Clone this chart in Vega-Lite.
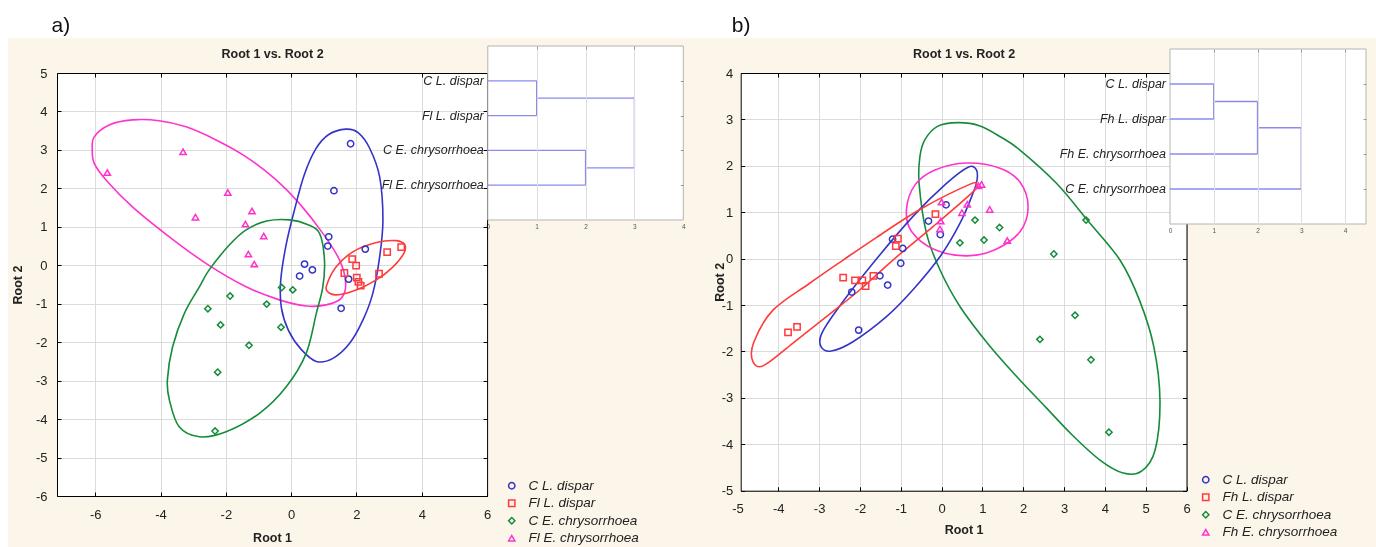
{
"$schema": "https://vega.github.io/schema/vega-lite/v6.json",
"width": 1368, "height": 509,
"autosize": {"type": "none"},
"padding": {"left": 8, "top": 38, "right": 0, "bottom": 0},
"background": "#ffffff",
"config": {
  "view": {"fill": "#fcf6ea", "stroke": null},
  "font": "Liberation Sans",
  "axis": {"labelFont": "Liberation Sans", "labelFontSize": 13, "labelColor": "#222222", "titleFont": "Liberation Sans", "titleFontSize": 12.5, "titleFontWeight": "bold", "titleColor": "#222222", "domainColor": "#000000", "tickColor": "#000000", "domainWidth": 1, "tickWidth": 1, "gridWidth": 1, "labelOverlap": false, "labelBound": false, "labelFlush": false, "labelExpr": "'' + datum.value"},
  "legend": {"labelFont": "Liberation Sans", "labelFontSize": 13.5, "labelFontStyle": "italic", "labelColor": "#222222", "symbolStrokeWidth": 1.5, "symbolSize": 40, "rowPadding": 2.5, "labelOffset": 10, "padding": 0, "title": null}
},
"resolve": {"scale": {"x": "independent", "y": "independent", "color": "independent", "shape": "independent", "stroke": "independent"}},
"datasets": {
  "ptsA": [
    {"g":"C L. dispar","x":1.82,"y":3.16},{"g":"C L. dispar","x":1.31,"y":1.94},{"g":"C L. dispar","x":1.15,"y":0.74},{"g":"C L. dispar","x":1.12,"y":0.5},{"g":"C L. dispar","x":0.41,"y":0.03},{"g":"C L. dispar","x":0.65,"y":-0.12},{"g":"C L. dispar","x":0.26,"y":-0.28},{"g":"C L. dispar","x":2.27,"y":0.42},{"g":"C L. dispar","x":1.76,"y":-0.36},{"g":"C L. dispar","x":1.53,"y":-1.12},
    {"g":"Fl L. dispar","x":1.87,"y":0.16},{"g":"Fl L. dispar","x":1.99,"y":-0.01},{"g":"Fl L. dispar","x":1.63,"y":-0.2},{"g":"Fl L. dispar","x":2.01,"y":-0.32},{"g":"Fl L. dispar","x":2.06,"y":-0.43},{"g":"Fl L. dispar","x":2.13,"y":-0.53},{"g":"Fl L. dispar","x":2.69,"y":-0.22},{"g":"Fl L. dispar","x":2.94,"y":0.34},{"g":"Fl L. dispar","x":3.37,"y":0.47},
    {"g":"C E. chrysorrhoea","x":-0.29,"y":-0.58},{"g":"C E. chrysorrhoea","x":0.05,"y":-0.64},{"g":"C E. chrysorrhoea","x":-1.87,"y":-0.8},{"g":"C E. chrysorrhoea","x":-2.55,"y":-1.13},{"g":"C E. chrysorrhoea","x":-0.75,"y":-1.01},{"g":"C E. chrysorrhoea","x":-2.16,"y":-1.55},{"g":"C E. chrysorrhoea","x":-0.31,"y":-1.61},{"g":"C E. chrysorrhoea","x":-1.29,"y":-2.08},{"g":"C E. chrysorrhoea","x":-2.25,"y":-2.78},{"g":"C E. chrysorrhoea","x":-2.33,"y":-4.31},
    {"g":"Fl E. chrysorrhoea","x":-5.63,"y":2.41},{"g":"Fl E. chrysorrhoea","x":-3.31,"y":2.95},{"g":"Fl E. chrysorrhoea","x":-1.94,"y":1.89},{"g":"Fl E. chrysorrhoea","x":-2.93,"y":1.25},{"g":"Fl E. chrysorrhoea","x":-1.2,"y":1.41},{"g":"Fl E. chrysorrhoea","x":-1.4,"y":1.07},{"g":"Fl E. chrysorrhoea","x":-0.84,"y":0.76},{"g":"Fl E. chrysorrhoea","x":-1.31,"y":0.29},{"g":"Fl E. chrysorrhoea","x":-1.13,"y":0.03}
  ],
  "ellA": [
    {"g":"Fl E. chrysorrhoea","i":1,"x":-6.09,"y":3.0},{"g":"Fl E. chrysorrhoea","i":2,"x":-6.03,"y":3.34},{"g":"Fl E. chrysorrhoea","i":3,"x":-5.57,"y":3.65},{"g":"Fl E. chrysorrhoea","i":4,"x":-4.86,"y":3.78},{"g":"Fl E. chrysorrhoea","i":5,"x":-4.04,"y":3.76},{"g":"Fl E. chrysorrhoea","i":6,"x":-3.22,"y":3.6},{"g":"Fl E. chrysorrhoea","i":7,"x":-2.3,"y":3.26},{"g":"Fl E. chrysorrhoea","i":8,"x":-1.38,"y":2.82},{"g":"Fl E. chrysorrhoea","i":9,"x":-0.46,"y":2.22},{"g":"Fl E. chrysorrhoea","i":10,"x":0.25,"y":1.61},{"g":"Fl E. chrysorrhoea","i":11,"x":0.97,"y":0.83},{"g":"Fl E. chrysorrhoea","i":12,"x":1.48,"y":0.14},{"g":"Fl E. chrysorrhoea","i":13,"x":1.67,"y":-0.47},{"g":"Fl E. chrysorrhoea","i":14,"x":1.53,"y":-0.86},{"g":"Fl E. chrysorrhoea","i":15,"x":1.07,"y":-1.03},{"g":"Fl E. chrysorrhoea","i":16,"x":0.46,"y":-1.06},{"g":"Fl E. chrysorrhoea","i":17,"x":-0.36,"y":-0.9},{"g":"Fl E. chrysorrhoea","i":18,"x":-1.38,"y":-0.56},{"g":"Fl E. chrysorrhoea","i":19,"x":-2.61,"y":0.05},{"g":"Fl E. chrysorrhoea","i":20,"x":-3.73,"y":0.74},{"g":"Fl E. chrysorrhoea","i":21,"x":-4.86,"y":1.52},{"g":"Fl E. chrysorrhoea","i":22,"x":-5.67,"y":2.22},{"g":"Fl E. chrysorrhoea","i":23,"x":-6.03,"y":2.65},
    {"g":"C L. dispar","i":1,"x":1.68,"y":3.54},{"g":"C L. dispar","i":2,"x":1.15,"y":3.4},{"g":"C L. dispar","i":3,"x":0.75,"y":3.02},{"g":"C L. dispar","i":4,"x":0.4,"y":2.35},{"g":"C L. dispar","i":5,"x":0.12,"y":1.5},{"g":"C L. dispar","i":6,"x":-0.15,"y":0.55},{"g":"C L. dispar","i":7,"x":-0.32,"y":-0.4},{"g":"C L. dispar","i":8,"x":-0.3,"y":-1.1},{"g":"C L. dispar","i":9,"x":-0.08,"y":-1.7},{"g":"C L. dispar","i":10,"x":0.3,"y":-2.18},{"g":"C L. dispar","i":11,"x":0.77,"y":-2.5},{"g":"C L. dispar","i":12,"x":1.28,"y":-2.42},{"g":"C L. dispar","i":13,"x":1.79,"y":-2.03},{"g":"C L. dispar","i":14,"x":2.2,"y":-1.42},{"g":"C L. dispar","i":15,"x":2.5,"y":-0.73},{"g":"C L. dispar","i":16,"x":2.71,"y":0.22},{"g":"C L. dispar","i":17,"x":2.81,"y":1.18},{"g":"C L. dispar","i":18,"x":2.71,"y":2.3},{"g":"C L. dispar","i":19,"x":2.4,"y":3.05},{"g":"C L. dispar","i":20,"x":2.05,"y":3.45},
    {"g":"C E. chrysorrhoea","i":1,"x":-0.05,"y":1.18},{"g":"C E. chrysorrhoea","i":2,"x":0.5,"y":1.06},{"g":"C E. chrysorrhoea","i":3,"x":0.87,"y":0.83},{"g":"C E. chrysorrhoea","i":4,"x":1.02,"y":0.14},{"g":"C E. chrysorrhoea","i":5,"x":0.97,"y":-0.56},{"g":"C E. chrysorrhoea","i":6,"x":0.77,"y":-1.25},{"g":"C E. chrysorrhoea","i":7,"x":0.46,"y":-2.29},{"g":"C E. chrysorrhoea","i":8,"x":-0.15,"y":-3.16},{"g":"C E. chrysorrhoea","i":9,"x":-0.97,"y":-3.85},{"g":"C E. chrysorrhoea","i":10,"x":-1.99,"y":-4.33},{"g":"C E. chrysorrhoea","i":11,"x":-2.81,"y":-4.46},{"g":"C E. chrysorrhoea","i":12,"x":-3.43,"y":-4.2},{"g":"C E. chrysorrhoea","i":13,"x":-3.73,"y":-3.5},{"g":"C E. chrysorrhoea","i":14,"x":-3.79,"y":-2.98},{"g":"C E. chrysorrhoea","i":15,"x":-3.63,"y":-2.12},{"g":"C E. chrysorrhoea","i":16,"x":-3.27,"y":-1.25},{"g":"C E. chrysorrhoea","i":17,"x":-2.81,"y":-0.56},{"g":"C E. chrysorrhoea","i":18,"x":-2.51,"y":-0.12},{"g":"C E. chrysorrhoea","i":19,"x":-1.9,"y":0.52},{"g":"C E. chrysorrhoea","i":20,"x":-1.38,"y":0.92},{"g":"C E. chrysorrhoea","i":21,"x":-0.75,"y":1.15},
    {"g":"Fl L. dispar","i":1,"x":1.09,"y":-0.51},{"g":"Fl L. dispar","i":2,"x":1.38,"y":-0.04},{"g":"Fl L. dispar","i":3,"x":1.89,"y":0.35},{"g":"Fl L. dispar","i":4,"x":2.61,"y":0.59},{"g":"Fl L. dispar","i":5,"x":3.22,"y":0.64},{"g":"Fl L. dispar","i":6,"x":3.48,"y":0.53},{"g":"Fl L. dispar","i":7,"x":3.45,"y":0.31},{"g":"Fl L. dispar","i":8,"x":3.12,"y":-0.04},{"g":"Fl L. dispar","i":9,"x":2.61,"y":-0.38},{"g":"Fl L. dispar","i":10,"x":1.99,"y":-0.64},{"g":"Fl L. dispar","i":11,"x":1.38,"y":-0.77},{"g":"Fl L. dispar","i":12,"x":1.12,"y":-0.69}
  ],
  "ptsB": [
    {"g":"C L. dispar","x":0.11,"y":1.16},{"g":"C L. dispar","x":-0.32,"y":0.81},{"g":"C L. dispar","x":-0.03,"y":0.52},{"g":"C L. dispar","x":-1.2,"y":0.42},{"g":"C L. dispar","x":-0.95,"y":0.22},{"g":"C L. dispar","x":-1.0,"y":-0.1},{"g":"C L. dispar","x":-1.51,"y":-0.37},{"g":"C L. dispar","x":-1.32,"y":-0.57},{"g":"C L. dispar","x":-2.2,"y":-0.72},{"g":"C L. dispar","x":-2.03,"y":-1.54},
    {"g":"Fh L. dispar","x":-3.76,"y":-1.59},{"g":"Fh L. dispar","x":-3.54,"y":-1.47},{"g":"Fh L. dispar","x":-2.41,"y":-0.41},{"g":"Fh L. dispar","x":-2.12,"y":-0.47},{"g":"Fh L. dispar","x":-1.94,"y":-0.47},{"g":"Fh L. dispar","x":-1.86,"y":-0.59},{"g":"Fh L. dispar","x":-1.67,"y":-0.37},{"g":"Fh L. dispar","x":-1.07,"y":0.43},{"g":"Fh L. dispar","x":-1.12,"y":0.27},{"g":"Fh L. dispar","x":-0.15,"y":0.96},
    {"g":"C E. chrysorrhoea","x":0.82,"y":0.83},{"g":"C E. chrysorrhoea","x":1.42,"y":0.67},{"g":"C E. chrysorrhoea","x":0.45,"y":0.34},{"g":"C E. chrysorrhoea","x":1.04,"y":0.4},{"g":"C E. chrysorrhoea","x":2.75,"y":0.1},{"g":"C E. chrysorrhoea","x":2.41,"y":-1.74},{"g":"C E. chrysorrhoea","x":3.54,"y":0.83},{"g":"C E. chrysorrhoea","x":3.27,"y":-1.22},{"g":"C E. chrysorrhoea","x":3.66,"y":-2.18},{"g":"C E. chrysorrhoea","x":4.1,"y":-3.74},
    {"g":"Fh E. chrysorrhoea","x":0.9,"y":1.57},{"g":"Fh E. chrysorrhoea","x":0.98,"y":1.6},{"g":"Fh E. chrysorrhoea","x":0.0,"y":1.22},{"g":"Fh E. chrysorrhoea","x":0.63,"y":1.17},{"g":"Fh E. chrysorrhoea","x":0.5,"y":0.99},{"g":"Fh E. chrysorrhoea","x":1.18,"y":1.06},{"g":"Fh E. chrysorrhoea","x":-0.02,"y":0.81},{"g":"Fh E. chrysorrhoea","x":-0.04,"y":0.64},{"g":"Fh E. chrysorrhoea","x":1.61,"y":0.39}
  ],
  "ellB": [
    {"g":"C E. chrysorrhoea","i":1,"x":-0.41,"y":2.56},{"g":"C E. chrysorrhoea","i":2,"x":-0.1,"y":2.85},{"g":"C E. chrysorrhoea","i":3,"x":0.4,"y":2.93},{"g":"C E. chrysorrhoea","i":4,"x":0.94,"y":2.86},{"g":"C E. chrysorrhoea","i":5,"x":1.45,"y":2.62},{"g":"C E. chrysorrhoea","i":6,"x":1.92,"y":2.34},{"g":"C E. chrysorrhoea","i":7,"x":2.82,"y":1.62},{"g":"C E. chrysorrhoea","i":8,"x":3.6,"y":0.8},{"g":"C E. chrysorrhoea","i":9,"x":4.37,"y":-0.03},{"g":"C E. chrysorrhoea","i":10,"x":4.85,"y":-0.9},{"g":"C E. chrysorrhoea","i":11,"x":5.2,"y":-1.9},{"g":"C E. chrysorrhoea","i":12,"x":5.35,"y":-3.05},{"g":"C E. chrysorrhoea","i":13,"x":5.23,"y":-4.13},{"g":"C E. chrysorrhoea","i":14,"x":4.9,"y":-4.58},{"g":"C E. chrysorrhoea","i":15,"x":4.45,"y":-4.62},{"g":"C E. chrysorrhoea","i":16,"x":3.88,"y":-4.34},{"g":"C E. chrysorrhoea","i":17,"x":3.2,"y":-3.8},{"g":"C E. chrysorrhoea","i":18,"x":2.55,"y":-3.2},{"g":"C E. chrysorrhoea","i":19,"x":1.85,"y":-2.55},{"g":"C E. chrysorrhoea","i":20,"x":1.15,"y":-1.85},{"g":"C E. chrysorrhoea","i":21,"x":0.45,"y":-1.03},{"g":"C E. chrysorrhoea","i":22,"x":-0.04,"y":-0.24},{"g":"C E. chrysorrhoea","i":23,"x":-0.37,"y":0.55},{"g":"C E. chrysorrhoea","i":24,"x":-0.55,"y":1.62},{"g":"C E. chrysorrhoea","i":25,"x":-0.53,"y":2.2},
    {"g":"Fh E. chrysorrhoea","i":1,"x":0.61,"y":2.06},{"g":"Fh E. chrysorrhoea","i":2,"x":1.43,"y":1.95},{"g":"Fh E. chrysorrhoea","i":3,"x":1.92,"y":1.65},{"g":"Fh E. chrysorrhoea","i":4,"x":2.12,"y":1.12},{"g":"Fh E. chrysorrhoea","i":5,"x":1.92,"y":0.58},{"g":"Fh E. chrysorrhoea","i":6,"x":1.31,"y":0.19},{"g":"Fh E. chrysorrhoea","i":7,"x":0.61,"y":0.06},{"g":"Fh E. chrysorrhoea","i":8,"x":-0.16,"y":0.19},{"g":"Fh E. chrysorrhoea","i":9,"x":-0.73,"y":0.58},{"g":"Fh E. chrysorrhoea","i":10,"x":-0.86,"y":1.05},{"g":"Fh E. chrysorrhoea","i":11,"x":-0.65,"y":1.59},{"g":"Fh E. chrysorrhoea","i":12,"x":-0.16,"y":1.91},
    {"g":"C L. dispar","i":1,"x":0.65,"y":1.97},{"g":"C L. dispar","i":2,"x":0.85,"y":1.92},{"g":"C L. dispar","i":3,"x":0.87,"y":1.7},{"g":"C L. dispar","i":4,"x":0.77,"y":1.41},{"g":"C L. dispar","i":5,"x":0.45,"y":0.76},{"g":"C L. dispar","i":6,"x":-0.04,"y":0.04},{"g":"C L. dispar","i":7,"x":-0.7,"y":-0.67},{"g":"C L. dispar","i":8,"x":-1.35,"y":-1.25},{"g":"C L. dispar","i":9,"x":-2.17,"y":-1.79},{"g":"C L. dispar","i":10,"x":-2.7,"y":-1.99},{"g":"C L. dispar","i":11,"x":-2.95,"y":-1.9},{"g":"C L. dispar","i":12,"x":-2.94,"y":-1.62},{"g":"C L. dispar","i":13,"x":-2.57,"y":-1.11},{"g":"C L. dispar","i":14,"x":-1.68,"y":-0.1},{"g":"C L. dispar","i":15,"x":-0.7,"y":0.91},{"g":"C L. dispar","i":16,"x":0.12,"y":1.62},
    {"g":"Fh L. dispar","i":1,"x":0.85,"y":1.58},{"g":"Fh L. dispar","i":2,"x":0.69,"y":1.6},{"g":"Fh L. dispar","i":3,"x":-0.53,"y":1.06},{"g":"Fh L. dispar","i":4,"x":-1.59,"y":0.46},{"g":"Fh L. dispar","i":5,"x":-2.41,"y":-0.03},{"g":"Fh L. dispar","i":6,"x":-3.23,"y":-0.53},{"g":"Fh L. dispar","i":7,"x":-4.13,"y":-1.11},{"g":"Fh L. dispar","i":8,"x":-4.6,"y":-1.8},{"g":"Fh L. dispar","i":9,"x":-4.62,"y":-2.22},{"g":"Fh L. dispar","i":10,"x":-4.35,"y":-2.3},{"g":"Fh L. dispar","i":11,"x":-3.64,"y":-1.82},{"g":"Fh L. dispar","i":12,"x":-2.82,"y":-1.25},{"g":"Fh L. dispar","i":13,"x":-2.0,"y":-0.67},{"g":"Fh L. dispar","i":14,"x":-1.19,"y":-0.03},{"g":"Fh L. dispar","i":15,"x":-0.21,"y":0.69},{"g":"Fh L. dispar","i":16,"x":0.77,"y":1.44}
  ],
  "dendA": [
    {"x":0,"y":1,"x2":1,"y2":1},{"x":0,"y":2,"x2":1,"y2":2},{"x":1,"y":1,"x2":1,"y2":2},
    {"x":0,"y":3,"x2":2,"y2":3},{"x":0,"y":4,"x2":2,"y2":4},{"x":2,"y":3,"x2":2,"y2":4},
    {"x":1,"y":1.5,"x2":3,"y2":1.5},{"x":2,"y":3.5,"x2":3,"y2":3.5},{"x":3,"y":1.5,"x2":3,"y2":3.5}
  ],
  "dendB": [
    {"x":0,"y":1,"x2":1,"y2":1},{"x":0,"y":2,"x2":1,"y2":2},{"x":1,"y":1,"x2":1,"y2":2},
    {"x":1,"y":1.5,"x2":2,"y2":1.5},{"x":0,"y":3,"x2":2,"y2":3},{"x":2,"y":1.5,"x2":2,"y2":3},
    {"x":2,"y":2.25,"x2":3,"y2":2.25},{"x":0,"y":4,"x2":3,"y2":4},{"x":3,"y":2.25,"x2":3,"y2":4}
  ],
  "leavesA": [{"name":"C L. dispar","pos":1},{"name":"Fl L. dispar","pos":2},{"name":"C E. chrysorrhoea","pos":3},{"name":"Fl E. chrysorrhoea","pos":4}],
  "leavesB": [{"name":"C L. dispar","pos":1},{"name":"Fh L. dispar","pos":2},{"name":"Fh E. chrysorrhoea","pos":3},{"name":"C E. chrysorrhoea","pos":4}]
},
"layer": [
  {
    "resolve": {"axis": {"x": "independent", "y": "independent"}},
    "layer": [
      {"data": {"values": [{}]}, "mark": {"type": "rect", "fill": "#040a16", "blend": "color-dodge"},
       "encoding": {
         "x": {"datum": -7.17, "type": "quantitative", "scale": {"domain": [-7.17, 6], "range": [49, 479.1], "nice": false, "zero": false},
               "axis": {"orient": "top", "offset": -35, "values": [-6,-4,-2,0,2,4,6], "grid": true, "gridColor": "#d7d2c7", "labels": false, "tickSize": -4, "title": "Root 1 vs. Root 2", "titlePadding": 12}},
         "x2": {"datum": 6},
         "y": {"datum": -6, "type": "quantitative", "scale": {"domain": [-6, 5], "range": [458, 35], "nice": false, "zero": false},
               "axis": {"orient": "left", "offset": -49, "values": [-6,-5,-4,-3,-2,-1,0,1,2,3,4,5], "grid": true, "gridColor": "#d7d2c7", "tickSize": -4, "labelPadding": 14, "title": "Root 2", "titlePadding": 11}},
         "y2": {"datum": 5}}},
      {"data": {"name": "ellA"}, "mark": {"type": "line", "interpolate": "cardinal-closed", "strokeWidth": 1.6},
       "encoding": {
         "x": {"field": "x", "type": "quantitative", "scale": {"domain": [-7.17, 6], "range": [49, 479.1], "nice": false, "zero": false},
               "axis": {"orient": "bottom", "offset": -51, "values": [-6,-4,-2,0,2,4,6], "grid": false, "tickSize": -4, "labelPadding": 16, "title": "Root 1", "titlePadding": 10}},
         "y": {"field": "y", "type": "quantitative", "scale": {"domain": [-6, 5], "range": [458, 35], "nice": false, "zero": false},
               "axis": {"orient": "right", "offset": -888.9, "values": [-6,-5,-4,-3,-2,-1,0,1,2,3,4,5], "grid": false, "labels": false, "tickSize": -4, "title": null}},
         "stroke": {"field": "g", "type": "nominal", "scale": {"domain": ["C L. dispar","Fl L. dispar","C E. chrysorrhoea","Fl E. chrysorrhoea"], "range": ["#3434c8","#ff3b3b","#168c3a","#ff33cc"]}, "legend": null},
         "order": {"field": "i", "type": "quantitative"}}},
      {"data": {"values": [{"t": "a)"}]}, "mark": {"type": "text", "fontSize": 21, "align": "center", "baseline": "alphabetic", "color": "#111111"},
       "encoding": {
         "x": {"datum": -7.05, "type": "quantitative", "scale": {"domain": [-7.17, 6], "range": [49, 479.1], "nice": false, "zero": false}, "axis": null},
         "y": {"datum": 6.07, "type": "quantitative", "scale": {"domain": [-6, 5], "range": [458, 35], "nice": false, "zero": false}, "axis": null},
         "text": {"field": "t"}}}
    ]
  },
  {"data": {"name": "ptsA"}, "mark": {"type": "point", "filled": false, "size": 40, "strokeWidth": 1.5, "opacity": 1},
   "encoding": {
     "x": {"field": "x", "type": "quantitative", "scale": {"domain": [-7.17, 6], "range": [49, 479.1], "nice": false, "zero": false}, "axis": null},
     "y": {"field": "y", "type": "quantitative", "scale": {"domain": [-6, 5], "range": [458, 35], "nice": false, "zero": false}, "axis": null},
     "color": {"field": "g", "type": "nominal", "scale": {"domain": ["C L. dispar","Fl L. dispar","C E. chrysorrhoea","Fl E. chrysorrhoea"], "range": ["#3434c8","#ff3b3b","#168c3a","#ff33cc"]},
               "legend": {"orient": "none", "legendX": 497, "legendY": 441}},
     "shape": {"field": "g", "type": "nominal", "scale": {"domain": ["C L. dispar","Fl L. dispar","C E. chrysorrhoea","Fl E. chrysorrhoea"], "range": ["circle","square","diamond","triangle-up"]},
               "legend": {"orient": "none", "legendX": 497, "legendY": 441}}}},
  {
    "resolve": {"axis": {"x": "independent", "y": "independent"}},
    "layer": [
      {"data": {"values": [{}]}, "mark": {"type": "rect", "fill": "#040a16", "blend": "color-dodge"},
       "encoding": {
         "x": {"datum": -4.92, "type": "quantitative", "scale": {"domain": [-4.92, 6], "range": [732.7, 1178.5], "nice": false, "zero": false},
               "axis": {"orient": "top", "offset": -35, "values": [-4,-3,-2,-1,0,1,2,3,4,5,6], "grid": true, "gridColor": "#d7d2c7", "labels": false, "tickSize": -4, "title": "Root 1 vs. Root 2", "titlePadding": 12}},
         "x2": {"datum": 6},
         "y": {"datum": -5, "type": "quantitative", "scale": {"domain": [-5, 4], "range": [452.7, 35], "nice": false, "zero": false},
               "axis": {"orient": "left", "offset": -732.7, "values": [-5,-4,-3,-2,-1,0,1,2,3,4], "grid": true, "gridColor": "#d7d2c7", "tickSize": -4, "labelPadding": 12, "title": "Root 2", "titlePadding": -5}},
         "y2": {"datum": 4}}},
      {"data": {"name": "ellB"}, "mark": {"type": "line", "interpolate": "cardinal-closed", "strokeWidth": 1.6},
       "encoding": {
         "x": {"field": "x", "type": "quantitative", "scale": {"domain": [-4.92, 6], "range": [732.7, 1178.5], "nice": false, "zero": false},
               "axis": {"orient": "bottom", "offset": -56.3, "values": [-4,-3,-2,-1,0,1,2,3,4,5,6], "grid": false, "tickSize": -4, "labelPadding": 16, "title": "Root 1", "titlePadding": 8}},
         "y": {"field": "y", "type": "quantitative", "scale": {"domain": [-5, 4], "range": [452.7, 35], "nice": false, "zero": false},
               "axis": {"orient": "right", "offset": -189.5, "values": [-5,-4,-3,-2,-1,0,1,2,3,4], "grid": false, "labels": false, "tickSize": -4, "title": null}},
         "stroke": {"field": "g", "type": "nominal", "scale": {"domain": ["C L. dispar","Fh L. dispar","C E. chrysorrhoea","Fh E. chrysorrhoea"], "range": ["#3434c8","#ff3b3b","#168c3a","#ff33cc"]}, "legend": null},
         "order": {"field": "i", "type": "quantitative"}}},
      {"data": {"values": [{"t": "b)"}]}, "mark": {"type": "text", "fontSize": 21, "align": "center", "baseline": "alphabetic", "color": "#111111"},
       "encoding": {
         "x": {"datum": -4.91, "type": "quantitative", "scale": {"domain": [-4.92, 6], "range": [732.7, 1178.5], "nice": false, "zero": false}, "axis": null},
         "y": {"datum": 4.884, "type": "quantitative", "scale": {"domain": [-5, 4], "range": [452.7, 35], "nice": false, "zero": false}, "axis": null},
         "text": {"field": "t"}}}
    ]
  },
  {"data": {"name": "ptsB"}, "mark": {"type": "point", "filled": false, "size": 40, "strokeWidth": 1.5, "opacity": 1},
   "encoding": {
     "x": {"field": "x", "type": "quantitative", "scale": {"domain": [-5, 6], "range": [729.43, 1178.5], "nice": false, "zero": false},
           "axis": {"orient": "bottom", "offset": -56.3, "values": [-5], "grid": false, "ticks": false, "domain": false, "labelPadding": 12, "title": null}},
     "y": {"field": "y", "type": "quantitative", "scale": {"domain": [-5, 4], "range": [452.7, 35], "nice": false, "zero": false}, "axis": null},
     "color": {"field": "g", "type": "nominal", "scale": {"domain": ["C L. dispar","Fh L. dispar","C E. chrysorrhoea","Fh E. chrysorrhoea"], "range": ["#3434c8","#ff3b3b","#168c3a","#ff33cc"]},
               "legend": {"orient": "none", "legendX": 1191, "legendY": 435}},
     "shape": {"field": "g", "type": "nominal", "scale": {"domain": ["C L. dispar","Fh L. dispar","C E. chrysorrhoea","Fh E. chrysorrhoea"], "range": ["circle","square","diamond","triangle-up"]},
               "legend": {"orient": "none", "legendX": 1191, "legendY": 435}}}},
  {
    "resolve": {"axis": {"x": "independent", "y": "independent"}},
    "layer": [
      {"data": {"values": [{}]}, "mark": {"type": "rect", "fill": "#ffffff", "stroke": "#b4b4b4", "strokeWidth": 1},
       "encoding": {
         "x": {"datum": 0, "type": "quantitative", "scale": {"domain": [0, 4], "range": [479.8, 675.3], "nice": false, "zero": false},
               "axis": {"orient": "top", "offset": -8, "values": [1,2,3], "grid": true, "gridColor": "#dedede", "labels": false, "domain": false, "tickSize": -3, "tickColor": "#999999", "zindex": 1, "title": null}},
         "x2": {"datum": 4},
         "y": {"datum": 0, "type": "quantitative", "scale": {"domain": [0, 5], "range": [8, 182], "nice": false, "zero": false},
               "axis": {"orient": "right", "offset": -692.7, "values": [1,2,3,4], "grid": false, "labels": false, "domain": false, "tickSize": -3, "tickColor": "#999999", "zindex": 1, "title": null}},
         "y2": {"datum": 5}}},
      {"data": {"name": "dendA"}, "mark": {"type": "rule", "color": "#8a8aef", "strokeWidth": 1.3},
       "encoding": {
         "x": {"field": "x", "type": "quantitative", "scale": {"domain": [0, 4], "range": [479.8, 675.3], "nice": false, "zero": false},
               "axis": {"orient": "bottom", "offset": -327, "values": [0,1,2,3,4], "grid": false, "domain": false, "ticks": false, "labelFontSize": 6.5, "labelColor": "#555555", "labelPadding": 3, "title": null}},
         "x2": {"field": "x2"},
         "y": {"field": "y", "type": "quantitative", "scale": {"domain": [0, 5], "range": [8, 182], "nice": false, "zero": false}, "axis": null},
         "y2": {"field": "y2"}}},
      {"data": {"name": "leavesA"}, "mark": {"type": "text", "align": "right", "baseline": "middle", "dx": -4, "fontSize": 12.5, "fontStyle": "italic", "color": "#222222"},
       "encoding": {
         "x": {"datum": 0, "type": "quantitative", "scale": {"domain": [0, 4], "range": [479.8, 675.3], "nice": false, "zero": false}, "axis": null},
         "y": {"field": "pos", "type": "quantitative", "scale": {"domain": [0, 5], "range": [8, 182], "nice": false, "zero": false}, "axis": null},
         "text": {"field": "name"}}}
    ]
  },
  {
    "resolve": {"axis": {"x": "independent", "y": "independent"}},
    "layer": [
      {"data": {"values": [{}]}, "mark": {"type": "rect", "fill": "#ffffff", "stroke": "#b4b4b4", "strokeWidth": 1},
       "encoding": {
         "x": {"datum": 0, "type": "quantitative", "scale": {"domain": [0, 4.48], "range": [1162, 1358], "nice": false, "zero": false},
               "axis": {"orient": "top", "offset": -11, "values": [1,2,3,4], "grid": true, "gridColor": "#dedede", "labels": false, "domain": false, "tickSize": -3, "tickColor": "#999999", "zindex": 1, "title": null}},
         "x2": {"datum": 4.48},
         "y": {"datum": 0, "type": "quantitative", "scale": {"domain": [0, 5], "range": [11, 186], "nice": false, "zero": false},
               "axis": {"orient": "right", "offset": -10, "values": [1,2,3,4], "grid": false, "labels": false, "domain": false, "tickSize": -3, "tickColor": "#999999", "zindex": 1, "title": null}},
         "y2": {"datum": 5}}},
      {"data": {"name": "dendB"}, "mark": {"type": "rule", "color": "#8a8aef", "strokeWidth": 1.3},
       "encoding": {
         "x": {"field": "x", "type": "quantitative", "scale": {"domain": [0, 4.48], "range": [1162, 1358], "nice": false, "zero": false},
               "axis": {"orient": "bottom", "offset": -323, "values": [0,1,2,3,4], "grid": false, "domain": false, "ticks": false, "labelFontSize": 6.5, "labelColor": "#555555", "labelPadding": 3, "title": null}},
         "x2": {"field": "x2"},
         "y": {"field": "y", "type": "quantitative", "scale": {"domain": [0, 5], "range": [11, 186], "nice": false, "zero": false}, "axis": null},
         "y2": {"field": "y2"}}},
      {"data": {"name": "leavesB"}, "mark": {"type": "text", "align": "right", "baseline": "middle", "dx": -4, "fontSize": 12.5, "fontStyle": "italic", "color": "#222222"},
       "encoding": {
         "x": {"datum": 0, "type": "quantitative", "scale": {"domain": [0, 4.48], "range": [1162, 1358], "nice": false, "zero": false}, "axis": null},
         "y": {"field": "pos", "type": "quantitative", "scale": {"domain": [0, 5], "range": [11, 186], "nice": false, "zero": false}, "axis": null},
         "text": {"field": "name"}}}
    ]
  }
]
}
